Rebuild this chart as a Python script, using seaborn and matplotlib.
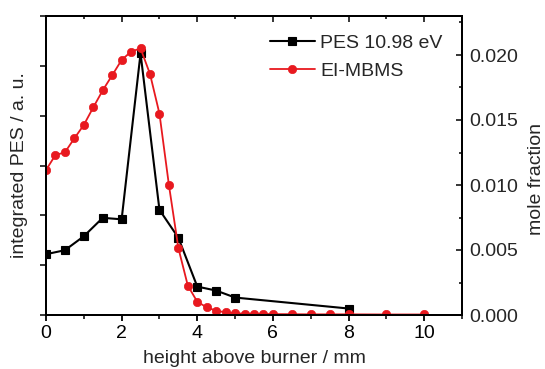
import matplotlib
matplotlib.use("Agg")
import matplotlib.pyplot as plt
import seaborn as sns
import numpy as np
from matplotlib.ticker import MultipleLocator, NullFormatter

# ---- data ----
pes_x = [0, 0.5, 1, 1.5, 2, 2.5, 3, 3.5, 4, 4.5, 5, 8]
pes_y = [1.22, 1.30, 1.58, 1.95, 1.92, 5.25, 2.11, 1.55, 0.57, 0.49, 0.35, 0.13]

ei_x = [0, 0.25, 0.5, 0.75, 1, 1.25, 1.5, 1.75, 2, 2.25, 2.5, 2.75, 3, 3.25,
        3.5, 3.75, 4, 4.25, 4.5, 4.75, 5, 5.25, 5.5, 5.75, 6, 6.5, 7, 7.5,
        8, 9, 10]
ei_y = [0.01115, 0.01231, 0.01251, 0.01359, 0.01462, 0.01597, 0.01728,
        0.01844, 0.01962, 0.02026, 0.02051, 0.01854, 0.01549, 0.0100,
        0.00515, 0.00226, 0.00102, 0.00059, 0.00033, 0.00020, 0.00013,
        0.00010, 0.00009, 0.00008, 0.00007, 0.00006, 0.00005, 0.00005,
        0.00005, 0.00004, 0.00004]

pes_label = "PES 10.98 eV"
ei_label = "EI-MBMS"
xlabel = "height above burner / mm"
ylabel_left = "integrated PES / a. u."
ylabel_right = "mole fraction"

sns.set_style("ticks")
plt.rcParams['font.family'] = ['Liberation Sans', 'DejaVu Sans']
FS = 14
RED = '#e8191f'

fig = plt.figure(figsize=(5.45, 3.69), dpi=100)
ax = fig.add_axes([46/545, 1-315/369, (462-46)/545, (315-16)/369])
ax2 = ax.twinx()

sns.lineplot(x=pes_x, y=pes_y, ax=ax, color='black', marker='s', markersize=5.2,
             markeredgecolor='black', markeredgewidth=0.8, linewidth=1.5,
             label=pes_label, legend=False)
sns.lineplot(x=ei_x, y=ei_y, ax=ax2, color=RED, marker='o', markersize=6,
             markeredgecolor=RED, markeredgewidth=0.5, linewidth=1.3,
             label=ei_label, legend=False)

ax.set_xlim(0, 11)
ax.set_ylim(0, 6)
ax2.set_ylim(0, 0.023)

for a in (ax, ax2):
    for s in a.spines.values():
        s.set_visible(True)
        s.set_linewidth(1.4)
        s.set_color('black')

# x axis (bottom): outward ticks
ax.xaxis.set_major_locator(MultipleLocator(2))
ax.xaxis.set_minor_locator(MultipleLocator(1))
ax.tick_params(axis='x', which='major', direction='out', length=4.5, width=1.3,
               labelsize=FS, pad=2.5, top=False, colors='black')
ax.tick_params(axis='x', which='minor', direction='out', length=2.8, width=1.3,
               top=False)

# top axis: inward ticks, no labels
top = ax.secondary_xaxis('top')
top.xaxis.set_major_locator(MultipleLocator(2))
top.xaxis.set_minor_locator(MultipleLocator(1))
top.tick_params(axis='x', which='major', direction='in', length=4, width=1.3,
                labeltop=False)
top.tick_params(axis='x', which='minor', direction='in', length=2.5, width=1.3)
top.spines['top'].set_linewidth(1.4)

# left axis: outward ticks, no labels
ax.yaxis.set_major_locator(MultipleLocator(1))
ax.yaxis.set_major_formatter(NullFormatter())
ax.tick_params(axis='y', which='major', direction='out', length=4.5, width=1.3,
               right=False)
ax.yaxis.set_minor_locator(plt.NullLocator())

# right axis: inward ticks with labels
ax2.yaxis.set_major_locator(MultipleLocator(0.005))
ax2.yaxis.set_minor_locator(MultipleLocator(0.0025))
ax2.yaxis.set_major_formatter(matplotlib.ticker.FormatStrFormatter('%.3f'))
ax2.tick_params(axis='y', which='major', direction='in', length=4, width=1.3,
                labelsize=FS, pad=5.5)
ax2.tick_params(axis='y', which='minor', direction='in', length=2.5, width=1.3)

ax.set_xlabel(xlabel, fontsize=FS, labelpad=6)
ax.set_ylabel(ylabel_left, fontsize=FS, labelpad=5)
ax2.set_ylabel(ylabel_right, fontsize=FS, labelpad=6.5)
ax2.yaxis.label.set_y(0.455)

h1, l1 = ax.get_legend_handles_labels()
h2, l2 = ax2.get_legend_handles_labels()
ax2.legend(h1 + h2, l1 + l2, loc='upper left', bbox_to_anchor=(0.538, 0.94),
           frameon=False, fontsize=FS, handlelength=2.3, handletextpad=0.3,
           labelspacing=0.55, borderpad=0, borderaxespad=0)

fig.savefig('out.png', dpi=100)
